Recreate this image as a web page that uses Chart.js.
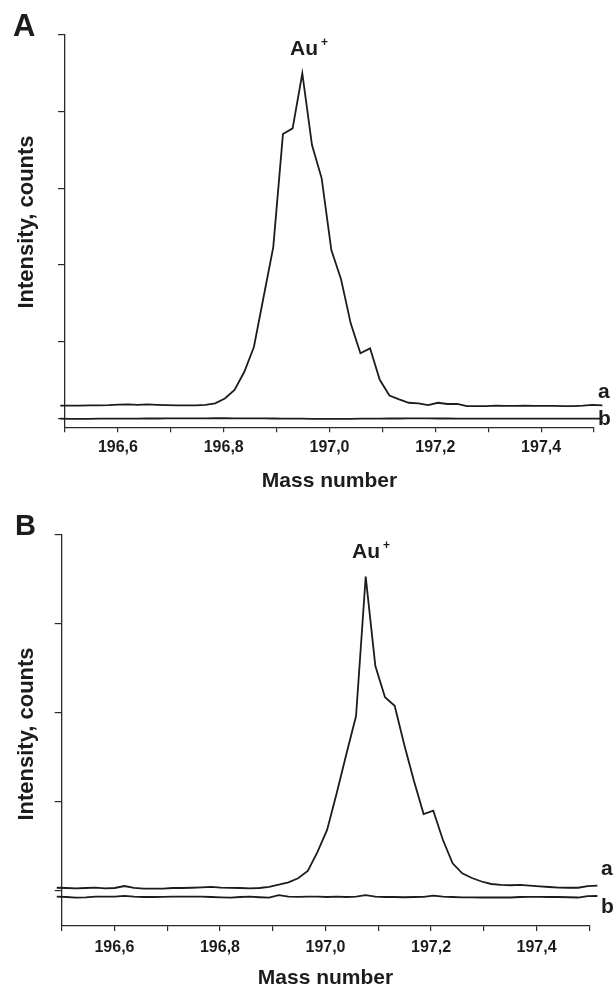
<!DOCTYPE html>
<html>
<head>
<meta charset="utf-8">
<title>Au+ mass spectra</title>
<script src="https://cdn.jsdelivr.net/npm/chart.js@4.4.1/dist/chart.umd.min.js"></script>
<style>
  html, body { margin: 0; padding: 0; background: #fff; }
  canvas { display: block; }
</style>
</head>
<body>
<canvas id="panel-a" width="614" height="497"></canvas>
<canvas id="panel-b" width="614" height="497"></canvas>
<script>
/***********************
 * DATA (intensity in y-tick units)
 ***********************/
const xTicks = [196.5, 196.6, 196.7, 196.8, 196.9, 197.0, 197.1, 197.2, 197.3, 197.4, 197.5];
const xTickLabels = ["", "196,6", "", "196,8", "", "197,0", "", "197,2", "", "197,4", ""];

// panel A
const massA = [
    196.4911, 196.5094, 196.5277, 196.5460, 196.5643, 196.5826, 196.6009, 196.6192, 196.6375, 196.6558,
    196.6741, 196.6924, 196.7107, 196.7290, 196.7473, 196.7656, 196.7839, 196.8022, 196.8205, 196.8388,
    196.8571, 196.8754, 196.8937, 196.9120, 196.9303, 196.9486, 196.9669, 196.9852, 197.0035, 197.0218,
    197.0401, 197.0584, 197.0767, 197.0950, 197.1133, 197.1316, 197.1499, 197.1682, 197.1865, 197.2048,
    197.2231, 197.2414, 197.2597, 197.2780, 197.2963, 197.3146, 197.3329, 197.3512, 197.3695, 197.3878,
    197.4061, 197.4244, 197.4427, 197.4610, 197.4793, 197.4976, 197.5159
];
const traceA_a = [
    0.167, 0.167, 0.167, 0.170, 0.170, 0.173, 0.179, 0.181, 0.176, 0.183,
    0.176, 0.171, 0.168, 0.168, 0.170, 0.176, 0.196, 0.258, 0.369, 0.604,
    0.930, 1.582, 2.234, 3.708, 3.782, 4.500, 3.565, 3.130, 2.195, 1.813,
    1.239, 0.848, 0.913, 0.502, 0.297, 0.248, 0.203, 0.196, 0.173, 0.203,
    0.187, 0.187, 0.160, 0.160, 0.160, 0.166, 0.163, 0.163, 0.166, 0.163,
    0.163, 0.163, 0.160, 0.160, 0.166, 0.176, 0.170
];
const traceA_b = [
    -0.004, -0.006, -0.008, -0.007, -0.005, -0.004, -0.004, -0.003, -0.003, -0.002,
    -0.002, -0.001, -0.001, 0.000, 0.000, 0.000, 0.001, 0.001, 0.000, 0.000,
    0.000, -0.001, -0.002, -0.003, -0.004, -0.005, -0.006, -0.006, -0.007, -0.007,
    -0.006, -0.005, -0.004, -0.003, -0.002, -0.002, -0.001, -0.001, -0.001, -0.002,
    -0.002, -0.003, -0.003, -0.003, -0.004, -0.004, -0.004, -0.004, -0.004, -0.005,
    -0.005, -0.004, -0.004, -0.004, -0.003, -0.003, -0.003
];
const yTicksA = [0, 1, 2, 3, 4, 5];

// panel B
const massB = [
    196.4906, 196.5089, 196.5272, 196.5455, 196.5638, 196.5821, 196.6004, 196.6187, 196.6370, 196.6553,
    196.6736, 196.6919, 196.7102, 196.7285, 196.7468, 196.7651, 196.7834, 196.8017, 196.8200, 196.8383,
    196.8566, 196.8749, 196.8932, 196.9115, 196.9298, 196.9481, 196.9664, 196.9847, 197.0030, 197.0213,
    197.0396, 197.0579, 197.0762, 197.0945, 197.1128, 197.1311, 197.1494, 197.1677, 197.1860, 197.2043,
    197.2226, 197.2409, 197.2592, 197.2775, 197.2958, 197.3141, 197.3324, 197.3507, 197.3690, 197.3873,
    197.4056, 197.4239, 197.4422, 197.4605, 197.4788, 197.4971, 197.5154
];
const traceB_a = [
    0.029, 0.026, 0.022, 0.026, 0.031, 0.022, 0.026, 0.048, 0.028, 0.020,
    0.018, 0.020, 0.026, 0.026, 0.029, 0.034, 0.039, 0.031, 0.028, 0.026,
    0.022, 0.026, 0.039, 0.063, 0.090, 0.135, 0.217, 0.430, 0.678, 1.093,
    1.531, 1.958, 3.524, 2.520, 2.169, 2.074, 1.633, 1.228, 0.857, 0.894,
    0.565, 0.303, 0.191, 0.138, 0.099, 0.071, 0.060, 0.057, 0.060, 0.053,
    0.045, 0.037, 0.031, 0.029, 0.029, 0.048, 0.052
];
const traceB_b = [
    -0.072, -0.075, -0.083, -0.079, -0.072, -0.070, -0.070, -0.062, -0.070, -0.075,
    -0.075, -0.073, -0.072, -0.072, -0.070, -0.072, -0.075, -0.079, -0.083, -0.075,
    -0.072, -0.078, -0.083, -0.055, -0.070, -0.073, -0.072, -0.070, -0.075, -0.070,
    -0.075, -0.070, -0.055, -0.072, -0.075, -0.075, -0.078, -0.075, -0.073, -0.060,
    -0.072, -0.075, -0.079, -0.079, -0.081, -0.081, -0.079, -0.081, -0.075, -0.073,
    -0.073, -0.075, -0.075, -0.078, -0.081, -0.066, -0.064
];
const yTicksB = [0, 1, 2, 3, 4];

/***********************
 * STYLE
 ***********************/
const FONT = "'Liberation Sans', Arial, Helvetica, sans-serif";
const INK = "#1c1c1c";
const AXIS = "#2a2a2a";

// free text: panel letter, peak label, trace names, y title
const panelText = {
    id: "panelText",
    afterDraw(chart, args, opts) {
        const ctx = chart.ctx;
        ctx.save();
        ctx.fillStyle = INK;
        ctx.textBaseline = "alphabetic";
        opts.items.forEach(t => {
            ctx.font = `bold ${t.size}px ${FONT}`;
            ctx.textAlign = t.align || "left";
            if (t.rotate) {
                ctx.save();
                ctx.translate(t.x, t.y);
                ctx.rotate(-Math.PI / 2);
                ctx.fillText(t.text, 0, 0);
                ctx.restore();
            } else {
                ctx.fillText(t.text, t.x, t.y);
            }
        });
        ctx.restore();
    }
};

function toPoints(xs, ys) {
    return xs.map((x, i) => ({ x, y: ys[i] }));
}

function traceStyle() {
    return {
        borderColor: INK,
        borderWidth: 1.8,
        pointRadius: 0,
        tension: 0,
        fill: false,
        clip: false
    };
}

/***********************
 * PANELS
 ***********************/
function makePanel(id, p) {
    return new Chart(document.getElementById(id), {
        type: "line",
        data: {
            datasets: [
                { label: "a", data: toPoints(p.mass, p.a), ...traceStyle() },
                { label: "b", data: toPoints(p.mass, p.b), ...traceStyle() }
            ]
        },
        options: {
            responsive: false,
            animation: false,
            events: [],
            layout: { padding: { top: p.top, right: p.right, bottom: 0, left: 0 } },
            plugins: {
                legend: { display: false },
                tooltip: { enabled: false },
                panelText: { items: p.texts }
            },
            scales: {
                x: {
                    type: "linear",
                    min: 196.5,
                    max: 197.5,
                    afterBuildTicks: s => { s.ticks = xTicks.map(v => ({ value: v })); },
                    afterFit: s => { s.height = p.xHeight; },
                    ticks: {
                        autoSkip: false,
                        maxRotation: 0,
                        padding: p.tickPad,
                        color: INK,
                        font: { family: FONT, size: 16, weight: "bold" },
                        callback: (v, i) => xTickLabels[i]
                    },
                    grid: { display: true, drawOnChartArea: false, drawTicks: true, tickLength: 5, color: AXIS, lineWidth: 1.2 },
                    border: { display: true, color: AXIS, width: 1.3 },
                    title: {
                        display: true,
                        text: "Mass number",
                        color: INK,
                        font: { family: FONT, size: 21, weight: "bold" },
                        padding: { top: 0, bottom: 3 }
                    }
                },
                y: {
                    type: "linear",
                    min: p.yMin,
                    max: p.yMax,
                    afterBuildTicks: s => { s.ticks = p.yTicks.map(v => ({ value: v })); },
                    afterFit: s => { s.width = p.left; },
                    ticks: { display: false },
                    grid: { display: true, drawOnChartArea: false, drawTicks: true, tickLength: 7, color: AXIS, lineWidth: 1.2 },
                    border: { display: true, color: AXIS, width: 1.3 }
                }
            }
        },
        plugins: [panelText]
    });
}

makePanel("panel-a", {
    mass: massA, a: traceA_a, b: traceA_b,
    yTicks: yTicksA, yMin: -0.117, yMax: 5,
    top: 35, right: 20, left: 65, xHeight: 69.7, tickPad: 6,
    texts: [
        { text: "A", x: 13, y: 36, size: 31 },
        { text: "Au", x: 290, y: 55, size: 21 },
        { text: "+", x: 321, y: 46, size: 12 },
        { text: "a", x: 598, y: 398, size: 21 },
        { text: "b", x: 598, y: 425, size: 21 },
        { text: "Intensity, counts", x: 32.5, y: 222, size: 22, rotate: true, align: "center" }
    ]
});

makePanel("panel-b", {
    mass: massB, a: traceB_a, b: traceB_b,
    yTicks: yTicksB, yMin: -0.401, yMax: 4,
    top: 37.3, right: 24.7, left: 61.7, xHeight: 68, tickPad: 7,
    texts: [
        { text: "B", x: 15, y: 38, size: 29 },
        { text: "Au", x: 352, y: 61, size: 21 },
        { text: "+", x: 383, y: 52, size: 12 },
        { text: "a", x: 601, y: 378, size: 21 },
        { text: "b", x: 601, y: 416, size: 21 },
        { text: "Intensity, counts", x: 32.5, y: 237, size: 22, rotate: true, align: "center" }
    ]
});
</script>
</body>
</html>
